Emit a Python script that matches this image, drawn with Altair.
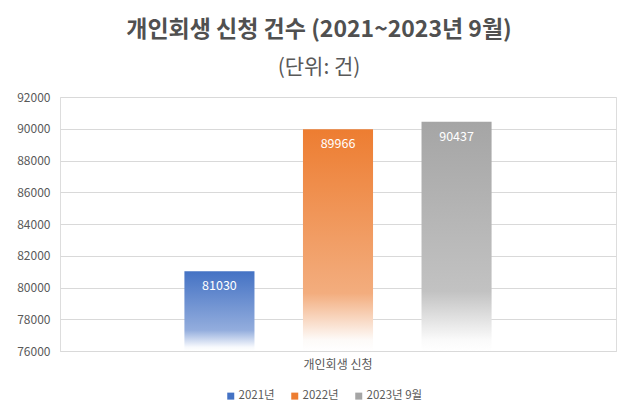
import altair as alt
import pandas as pd

categories = ["개인회생 신청"]
series = ["2021년", "2022년", "2023년 9월"]
values = [81030, 89966, 90437]
base_colors = ["#4472C4", "#ED7D31", "#A5A5A5"]
mid_colors = ["#93ADDD", "#F3AD7E", "#C2C2C2"]
low_colors = ["#f7f9fd", "#fdfaf8", "#fafafa"]
y_ticks = [76000, 78000, 80000, 82000, 84000, 86000, 88000, 90000, 92000]

df = pd.DataFrame({
    "category": categories * len(series),
    "series": series,
    "value": values,
})

FONT = "Noto Sans CJK KR"
GRAY = "#595959"

x_enc = alt.X(
    "category:N",
    scale=alt.Scale(paddingInner=0, paddingOuter=0.153),
    axis=alt.Axis(title=None, labelAngle=0, ticks=False, domain=True,
                  domainColor="#d9d9d9", labelFont=FONT, labelFontSize=12,
                  labelColor=GRAY, labelPadding=8, grid=False),
)
xo_enc = alt.XOffset(
    "series:N",
    scale=alt.Scale(domain=series, paddingInner=0.409, paddingOuter=0.5),
)
y_enc = alt.Y(
    "value:Q",
    scale=alt.Scale(domain=[76000, 92000], zero=False, nice=False),
    axis=alt.Axis(values=y_ticks, title=None, ticks=False, domain=False,
                  labelFont=FONT, labelFontSize=12, labelColor=GRAY,
                  labelPadding=10, gridColor="#d9d9d9", gridWidth=1,
                  format="d"),
)

layers = []
for s, c, m, lo in zip(series, base_colors, mid_colors, low_colors):
    grad = alt.LinearGradient(
        gradient="linear",
        stops=[
            alt.GradientStop(color=c, offset=0),
            alt.GradientStop(color=m, offset=0.74),
            alt.GradientStop(color=lo, offset=0.95),
            alt.GradientStop(color="#ffffff", offset=1),
        ],
        x1=0, x2=0, y1=0, y2=1,
    )
    layers.append(
        alt.Chart(df)
        .transform_filter(alt.datum.series == s)
        .mark_bar(color=grad)
        .encode(x=x_enc, xOffset=xo_enc, y=y_enc, y2=alt.datum(76000))
    )

legend_layer = alt.Chart(df).mark_square(opacity=0, size=10).encode(
    x=x_enc, xOffset=xo_enc, y=y_enc,
    color=alt.Color(
        "series:N",
        scale=alt.Scale(domain=series, range=base_colors),
        legend=alt.Legend(
            title=None, orient="none", direction="horizontal",
            legendX=165, legendY=293, symbolType="square", symbolSize=49,
            symbolOpacity=1, symbolStrokeWidth=0, labelFont=FONT,
            labelFontSize=11.5, labelColor=GRAY, columnPadding=14,
            labelOffset=2,
        ),
    ),
)

labels = alt.Chart(df).mark_text(
    color="white", baseline="middle", dy=15, fontSize=12.5, font=FONT
).encode(x=x_enc, xOffset=xo_enc, y=y_enc, text=alt.Text("value:Q", format="d"))

chart = (
    alt.layer(*layers, legend_layer, labels)
    .properties(
        width=556,
        height=254,
        autosize=alt.AutoSizeParams(type="none"),
        padding={"left": 60, "top": 97, "right": 24, "bottom": 62},
        title=alt.TitleParams(
            text="개인회생 신청 건수 (2021~2023년 9월)",
            subtitle="(단위: 건)",
            font=FONT, fontSize=23, fontWeight="bold", color="#505050",
            subtitleFont=FONT, subtitleFontSize=21, subtitleColor=GRAY,
            subtitlePadding=15, offset=13, dx=-19, anchor="middle",
        ),
    )
    .configure_view(stroke=None)
    .configure(background="white")
)

chart.save("out.html", embed_options={"renderer": "svg", "actions": False})
